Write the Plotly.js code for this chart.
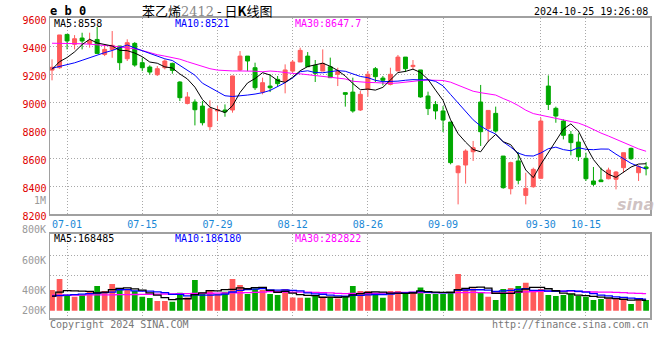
<!DOCTYPE html>
<html><head><meta charset="utf-8">
<script src="https://cdn.plot.ly/plotly-3.0.1.min.js"></script>
<style>html,body{margin:0;padding:0;background:#fff}#chart{width:660px;height:360px}</style>
</head><body><div id="chart"></div>
<script>
// ---- data ----
const dates = ['06-27','06-28',
 '07-01','07-02','07-03','07-04','07-05','07-08','07-09','07-10','07-11','07-12','07-15','07-16','07-17','07-18','07-19','07-22','07-23','07-24','07-25','07-26','07-29','07-30','07-31',
 '08-01','08-02','08-05','08-06','08-07','08-08','08-09','08-12','08-13','08-14','08-15','08-16','08-19','08-20','08-21','08-22','08-23','08-26','08-27','08-28','08-29','08-30',
 '09-02','09-03','09-04','09-05','09-06','09-09','09-10','09-11','09-12','09-13','09-18','09-19','09-20','09-23','09-24','09-25','09-26','09-27','09-30',
 '10-08','10-09','10-10','10-11','10-14','10-15','10-16','10-17','10-18','10-21','10-22','10-23','10-24','10-25'];
const open  = [9230,9247,9485,9414,9459,9420,9449,9342,9378,9402,9311,9421,9283,9252,9197,9247,9278,9145,8992,9002,8973,8826,8938,8945,8945,9231,9330,9247,9073,9116,9164,9150,9223,9288,9330,9264,9223,9254,9200,9069,9073,8945,9092,9240,9173,9128,9224,9323,9255,9231,9045,8985,8938,8859,8497,8552,8647,9002,8812,8921,8616,8383,8581,8335,8397,8457,9116,8957,8866,8771,8716,8600,8438,8445,8454,8450,8533,8671,8497,8538];
const high  = [9307,9481,9485,9480,9497,9497,9538,9414,9509,9402,9450,9430,9318,9264,9259,9307,9283,9150,9073,9021,9009,9014,8973,8985,9190,9366,9330,9283,9176,9200,9188,9271,9302,9390,9359,9302,9378,9319,9247,9069,9176,9081,9224,9252,9188,9247,9338,9323,9302,9231,9076,9009,8973,8859,8550,8664,8724,9124,8942,8969,8616,8576,8645,8497,8533,8890,9192,8969,8878,8795,8778,8640,8538,8533,8533,8509,8640,8676,8550,8573];
const low   = [9157,9240,9378,9378,9378,9390,9349,9330,9318,9230,9295,9254,9223,9197,9188,9235,9204,9009,8985,8835,8835,8802,8866,8897,8926,9223,9223,9088,9057,9073,9112,9064,9212,9288,9254,9145,9223,9176,9116,8969,8926,8938,9040,9145,9121,9121,9224,9216,9235,9033,8909,8878,8788,8557,8271,8419,8581,8688,8716,8783,8383,8342,8414,8271,8390,8457,8945,8854,8735,8621,8581,8438,8402,8431,8450,8378,8497,8588,8438,8478];
const close = [9250,9481,9438,9454,9438,9440,9349,9378,9407,9283,9426,9266,9247,9216,9240,9295,9228,9033,9038,8947,8854,8954,8947,8931,9188,9330,9295,9104,9140,9104,9133,9231,9288,9371,9254,9207,9278,9176,9221,9057,8938,9057,9200,9183,9157,9200,9323,9240,9264,9038,8955,8938,8873,8569,8545,8652,8676,8790,8942,8795,8390,8569,8443,8385,8521,8866,8985,8902,8764,8712,8611,8454,8414,8433,8516,8502,8640,8597,8540,8526];
const volume = [334000,512000,254000,226000,254000,307000,399000,318000,431000,350000,344000,318000,226000,205000,157000,157000,145000,291000,215000,496000,291000,334000,270000,307000,512000,415000,270000,360000,334000,270000,254000,350000,215000,210000,210000,237000,215000,226000,199000,237000,399000,318000,318000,254000,210000,318000,318000,291000,291000,376000,270000,270000,270000,302000,593000,360000,360000,291000,226000,173000,350000,367000,399000,452000,318000,350000,254000,237000,254000,270000,237000,226000,173000,189000,199000,189000,173000,108000,199000,173000];
// moving-average values before enough days are on the chart
const ma5Head  = [9235,9290,9320,9360];
const ma10Head = [9243,9255,9268,9282,9300,9318,9340,9355,9370];
const ma30Head = [9422,9422,9421,9420,9418,9415,9412,9408,9402,9396,9390,9382,9370,9354,9340,9330,9318,9308,9290,9272,9255,9240,9230,9226,9224,9224,9225,9222,9218];
const vma5Head  = [237000,300000,323000,320000];
const vma10Head = [237000,245000,252000,260000,268000,276000,284000,292000,300000];
const vma30Head = [250000,250000,251000,252000,253000,254000,255000,256000,257000,258000,260000,262000,264000,266000,268000,270000,272000,274000,276000,278000,280000,282000,284000,286000,288000,290000,293000,296000,300000];
const tickDates = ['07-01','07-15','07-29','08-12','08-26','09-09','09-30','10-15'];
const priceTicks = [8200,8400,8600,8800,9000,9200,9400,9600];

// ---- helpers ----
function ma(vals, n, head){
  return vals.map((v,i)=>{
    if(i < n-1) return head[i];
    let s=0; for(let k=i-n+1;k<=i;k++) s+=vals[k]; return s/n;
  });
}
const RED='#ff5b5b', GREEN='#00a800';
const MONO='DejaVu Sans Mono';
const X = px => (px-50)/600;
const Y = px => 1 - px/360;
const volColors = close.map((c,i)=> c>=open[i] ? RED : GREEN);

const traces = [
  {type:'candlestick', x:dates, open, high, low, close, xaxis:'x', yaxis:'y',
   increasing:{line:{color:RED,width:1}, fillcolor:RED},
   decreasing:{line:{color:GREEN,width:1}, fillcolor:GREEN},
   whiskerwidth:0, hoverinfo:'skip'},
  {type:'scatter', mode:'lines', x:dates, y:ma(close,30,ma30Head), line:{color:'#ff00ff',width:1}, xaxis:'x', yaxis:'y', hoverinfo:'skip'},
  {type:'scatter', mode:'lines', x:dates, y:ma(close,10,ma10Head), line:{color:'#0000ff',width:1}, xaxis:'x', yaxis:'y', hoverinfo:'skip'},
  {type:'scatter', mode:'lines', x:dates, y:ma(close,5,ma5Head), line:{color:'#000000',width:1}, xaxis:'x', yaxis:'y', hoverinfo:'skip'},
  {type:'bar', x:dates, y:volume, marker:{color:volColors, line:{width:0}}, xaxis:'x2', yaxis:'y2', hoverinfo:'skip'},
  {type:'scatter', mode:'lines', x:dates, y:ma(volume,30,vma30Head), line:{color:'#ff00ff',width:1.3,shape:'hvh'}, xaxis:'x2', yaxis:'y2', hoverinfo:'skip'},
  {type:'scatter', mode:'lines', x:dates, y:ma(volume,10,vma10Head), line:{color:'#0000ff',width:1.3,shape:'hvh'}, xaxis:'x2', yaxis:'y2', hoverinfo:'skip'},
  {type:'scatter', mode:'lines', x:dates, y:ma(volume,5,vma5Head), line:{color:'#000000',width:1.3,shape:'hvh'}, xaxis:'x2', yaxis:'y2', hoverinfo:'skip'}
];

const GRID='#a8a8a8', FRAME='#a0a0a0';
const xBase = {type:'category', range:[-0.27,79.52], showgrid:true, gridcolor:GRID, griddash:'1px,2px', gridwidth:1,
  tickvals:tickDates, ticktext:tickDates, showline:true, mirror:true, linecolor:FRAME, linewidth:2, ticks:'', zeroline:false, fixedrange:true,
  rangeslider:{visible:false}};

function ann(text, px, pyv, opts){
  return Object.assign({text, x:X(px), y:Y(pyv), xref:'paper', yref:'paper', showarrow:false, xanchor:'left', yanchor:'middle',
    font:{family:MONO,size:10,color:'#000'}}, opts||{});
}
const annotations = [
  ann('苯乙烯<span style="color:#8a8a8a;font-family:DejaVu Serif">2412</span> - 日<b>K</b>线图', 207, 10, {xanchor:'center', font:{family:'Noto Sans CJK SC',size:13,color:'#000'}}),
  ann('<b>e b 0</b>', 48, 11, {font:{family:MONO,size:12,color:'#000'}}),
  ann('2024-10-25 19:26:08', 650, 12, {xanchor:'right'}),
  ann('MA5:8558', 52, 23.5),
  ann('MA10:8521', 173, 23.5, {font:{family:MONO,size:10,color:'#0000ff'}}),
  ann('MA30:8647.7', 293, 23.5, {font:{family:MONO,size:10,color:'#ff00ff'}}),
  ann('MA5:168485', 52, 238.5),
  ann('MA10:186180', 173, 238.5, {font:{family:MONO,size:10,color:'#0000ff'}}),
  ann('MA30:282822', 293, 238.5, {font:{family:MONO,size:10,color:'#ff00ff'}}),
  ann('1M', 48, 200, {xanchor:'right', font:{family:MONO,size:10,color:'#999'}}),
  ann('800K', 48, 230, {xanchor:'right', font:{family:MONO,size:10,color:'#999'}}),
  ann('600K', 48, 260.7, {xanchor:'right', font:{family:MONO,size:10,color:'#999'}}),
  ann('400K', 48, 290.7, {xanchor:'right', font:{family:MONO,size:10,color:'#999'}}),
  ann('200K', 48, 310.7, {xanchor:'right', font:{family:MONO,size:10,color:'#999'}}),
  ann('Copyright 2024 SINA.COM', 48, 324, {font:{family:MONO,size:10,color:'#777'}}),
  ann('http://finance.sina.com.cn', 651, 324, {xanchor:'right', font:{family:MONO,size:10,color:'#777'}}),
  ann('<b><i>sina</i></b>', 635, 204, {xanchor:'center', font:{family:'DejaVu Sans',size:16,color:'rgba(200,185,185,0.85)'}})
];

const layout = {
  width:660, height:360, margin:{l:50,r:10,t:0,b:0}, paper_bgcolor:'#fff', plot_bgcolor:'#fff',
  showlegend:false, hovermode:false, boxgap:0.25, bargap:0.24,
  xaxis: Object.assign({}, xBase, {anchor:'y', tickfont:{family:MONO,size:10,color:'#1a88d6'}}),
  yaxis: {domain:[Y(214.3), Y(18.3)], range:[8200,9600], tickvals:priceTicks, showgrid:true, gridcolor:GRID, griddash:'1px,2px',
    showline:true, mirror:true, linecolor:FRAME, linewidth:1.5, ticks:'', zeroline:false, fixedrange:true, ticklabelshift:2,
    tickfont:{family:MONO,size:10,color:'#e00000'}},
  xaxis2: Object.assign({}, xBase, {anchor:'y2', matches:'x', showticklabels:false}),
  yaxis2: {domain:[Y(318.3), Y(234.3)], range:[-122740,1233860], tickvals:[576600,899600], showticklabels:false,
    showgrid:true, gridcolor:GRID, griddash:'1px,2px', showline:true, mirror:true, linecolor:FRAME, linewidth:1.5, ticks:'', zeroline:false, fixedrange:true},
  annotations
};
Plotly.newPlot('chart', traces, layout, {displayModeBar:false, staticPlot:true});
</script></body></html>
